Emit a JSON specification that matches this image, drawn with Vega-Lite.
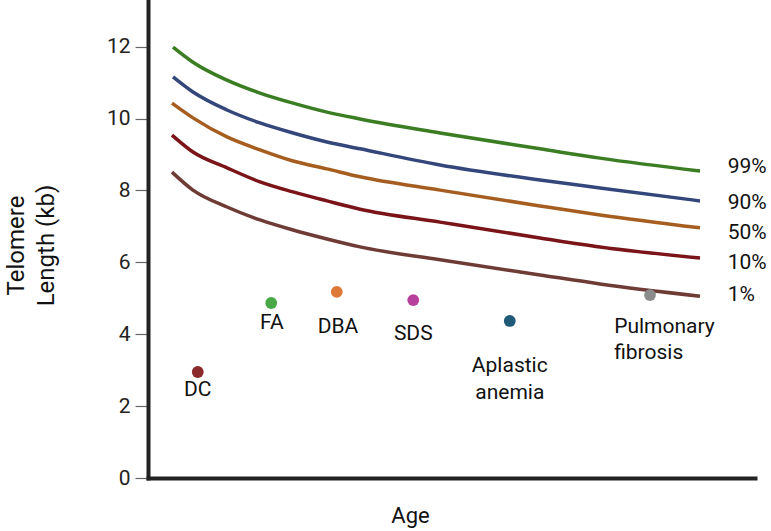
{
  "$schema": "https://vega.github.io/schema/vega-lite/v6.json",
  "width": 607,
  "height": 478,
  "autosize": {"type": "none"},
  "padding": {"left": 148, "top": 0, "right": 16, "bottom": 53},
  "config": {"view": {"stroke": null}, "font": "Roboto", "axis": {"grid": false}},
  "datasets": {
    "curves": [
      {"p": "99%", "x": 4.12, "y": 11.99}, {"p": "99%", "x": 7.41, "y": 11.57}, {"p": "99%", "x": 13.01, "y": 11.07}, {"p": "99%", "x": 18.45, "y": 10.71}, {"p": "99%", "x": 23.89, "y": 10.43}, {"p": "99%", "x": 29.49, "y": 10.18}, {"p": "99%", "x": 34.93, "y": 9.99}, {"p": "99%", "x": 48.11, "y": 9.6}, {"p": "99%", "x": 64.58, "y": 9.16}, {"p": "99%", "x": 74.46, "y": 8.9}, {"p": "99%", "x": 90.94, "y": 8.54},
      {"p": "90%", "x": 4.12, "y": 11.16}, {"p": "90%", "x": 7.41, "y": 10.74}, {"p": "90%", "x": 13.01, "y": 10.24}, {"p": "90%", "x": 18.45, "y": 9.88}, {"p": "90%", "x": 23.89, "y": 9.6}, {"p": "90%", "x": 29.49, "y": 9.35}, {"p": "90%", "x": 34.93, "y": 9.16}, {"p": "90%", "x": 48.11, "y": 8.71}, {"p": "90%", "x": 64.58, "y": 8.29}, {"p": "90%", "x": 74.46, "y": 8.07}, {"p": "90%", "x": 90.94, "y": 7.71},
      {"p": "50%", "x": 3.95, "y": 10.43}, {"p": "50%", "x": 7.41, "y": 10.02}, {"p": "50%", "x": 13.01, "y": 9.49}, {"p": "50%", "x": 18.45, "y": 9.13}, {"p": "50%", "x": 23.89, "y": 8.82}, {"p": "50%", "x": 29.49, "y": 8.6}, {"p": "50%", "x": 34.93, "y": 8.38}, {"p": "50%", "x": 48.11, "y": 8.01}, {"p": "50%", "x": 64.58, "y": 7.57}, {"p": "50%", "x": 74.46, "y": 7.32}, {"p": "50%", "x": 90.94, "y": 6.96},
      {"p": "10%", "x": 3.95, "y": 9.54}, {"p": "10%", "x": 7.41, "y": 9.07}, {"p": "10%", "x": 13.01, "y": 8.63}, {"p": "10%", "x": 18.45, "y": 8.24}, {"p": "10%", "x": 23.89, "y": 7.96}, {"p": "10%", "x": 29.49, "y": 7.71}, {"p": "10%", "x": 34.93, "y": 7.48}, {"p": "10%", "x": 48.11, "y": 7.12}, {"p": "10%", "x": 64.58, "y": 6.68}, {"p": "10%", "x": 74.46, "y": 6.43}, {"p": "10%", "x": 90.94, "y": 6.12},
      {"p": "1%", "x": 3.95, "y": 8.51}, {"p": "1%", "x": 7.41, "y": 8.01}, {"p": "1%", "x": 13.01, "y": 7.54}, {"p": "1%", "x": 18.45, "y": 7.18}, {"p": "1%", "x": 23.89, "y": 6.9}, {"p": "1%", "x": 29.49, "y": 6.65}, {"p": "1%", "x": 34.93, "y": 6.43}, {"p": "1%", "x": 48.11, "y": 6.07}, {"p": "1%", "x": 64.58, "y": 5.65}, {"p": "1%", "x": 74.46, "y": 5.4}, {"p": "1%", "x": 90.94, "y": 5.06}
    ],
    "diseases": [
      {"name": "DC", "x": 8.2, "y": 2.95},
      {"name": "FA", "x": 20.3, "y": 4.87},
      {"name": "DBA", "x": 31.1, "y": 5.18},
      {"name": "SDS", "x": 43.7, "y": 4.95},
      {"name": "Aplastic anemia", "x": 59.6, "y": 4.37},
      {"name": "Pulmonary fibrosis", "x": 82.7, "y": 5.09}
    ],
    "centerLabels": [
      {"label": "DC", "x": 8.2, "y": 2.45},
      {"label": "FA", "x": 20.4, "y": 4.31},
      {"label": "DBA", "x": 31.3, "y": 4.2},
      {"label": "SDS", "x": 43.7, "y": 4.01},
      {"label": "Aplastic\nanemia", "x": 59.6, "y": 3.12}
    ],
    "leftLabels": [
      {"label": "Pulmonary\nfibrosis", "x": 76.8, "y": 4.2}
    ],
    "pctLabels": [
      {"label": "99%", "x": 95.5, "y": 8.65},
      {"label": "90%", "x": 95.5, "y": 7.65},
      {"label": "50%", "x": 95.5, "y": 6.82},
      {"label": "10%", "x": 95.5, "y": 5.98},
      {"label": "1%", "x": 95.5, "y": 5.09}
    ]
  },
  "encoding": {
    "x": {
      "field": "x", "type": "quantitative",
      "scale": {"domain": [0, 100], "nice": false},
      "axis": {
        "title": "Age", "labels": false, "ticks": false,
        "domainColor": "#222", "domainWidth": 4, "domainCap": "square",
        "titleFontSize": 22, "titleFontWeight": "normal", "titleColor": "#111",
        "titleX": 262, "titleY": 37, "titleBaseline": "middle", "titleAlign": "center"
      }
    },
    "y": {
      "field": "y", "type": "quantitative",
      "scale": {"domain": [0, 13.3], "nice": false},
      "axis": {
        "values": [0, 2, 4, 6, 8, 10, 12],
        "tickSize": 13, "tickColor": "#666", "tickWidth": 1.2,
        "labelFontSize": 21, "labelColor": "#222", "labelPadding": 5,
        "domainColor": "#222", "domainWidth": 4, "domainCap": "square",
        "title": ["Telomere", "Length (kb)"],
        "titleFontSize": 24, "titleFontWeight": "normal", "titleColor": "#111",
        "titleAngle": -90, "titleX": -132, "titleY": 245,
        "titleAlign": "center", "titleBaseline": "middle", "titleLineHeight": 30
      }
    }
  },
  "layer": [
    {
      "data": {"name": "curves"},
      "mark": {"type": "line", "strokeWidth": 3.5, "interpolate": "monotone"},
      "encoding": {
        "color": {
          "field": "p", "type": "nominal", "legend": null,
          "scale": {"domain": ["99%", "90%", "50%", "10%", "1%"], "range": ["#3b7d23", "#34477a", "#a65e20", "#7a1419", "#6e3c35"]}
        }
      }
    },
    {
      "data": {"name": "diseases"},
      "mark": {"type": "circle", "size": 140, "opacity": 1},
      "encoding": {
        "color": {
          "field": "name", "type": "nominal", "legend": null,
          "scale": {"domain": ["DC", "FA", "DBA", "SDS", "Aplastic anemia", "Pulmonary fibrosis"], "range": ["#8b2a2a", "#47a845", "#dd7a3a", "#b8409d", "#1f5a78", "#8c8c8c"]}
        }
      }
    },
    {
      "data": {"name": "centerLabels"},
      "mark": {"type": "text", "fontSize": 21, "color": "#111", "align": "center", "baseline": "middle", "lineBreak": "\n", "lineHeight": 27},
      "encoding": {"text": {"field": "label"}}
    },
    {
      "data": {"name": "leftLabels"},
      "mark": {"type": "text", "fontSize": 21, "color": "#111", "align": "left", "baseline": "middle", "lineBreak": "\n", "lineHeight": 26},
      "encoding": {"text": {"field": "label"}}
    },
    {
      "data": {"name": "pctLabels"},
      "mark": {"type": "text", "fontSize": 21, "color": "#111", "align": "left", "baseline": "middle"},
      "encoding": {"text": {"field": "label"}}
    }
  ],
  "resolve": {"scale": {"color": "independent"}}
}
